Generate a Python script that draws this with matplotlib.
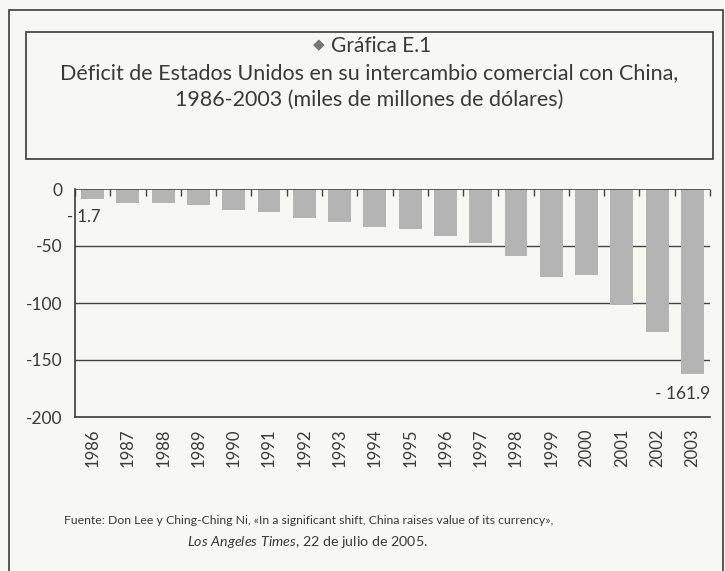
import matplotlib.pyplot as plt
import numpy as np
from matplotlib.patches import Rectangle

# data (miles de millones de dólares)
years = ['1986', '1987', '1988', '1989', '1990', '1991', '1992', '1993', '1994',
         '1995', '1996', '1997', '1998', '1999', '2000', '2001', '2002', '2003']
deficit = [-9.0, -12.0, -12.0, -14.3, -18.4, -20.5, -25.7, -28.7, -33.6,
           -35.4, -41.2, -47.1, -58.8, -76.9, -75.4, -101.8, -125.1, -161.9]
y_ticks = [0, -50, -100, -150, -200]
first_label = '- 1.7'
last_label = '- 161.9'

title_lines = ['Gráfica E.1',
               'Déficit de Estados Unidos en su intercambio comercial con China,',
               '1986-2003 (miles de millones de dólares)']
source_1 = 'Fuente: Don Lee y Ching-Ching Ni, «In a significant shift, China raises value of its currency»,'
source_2 = r'$\it{Los\ Angeles\ Times}$, 22 de julio de 2005.'

bg = '#f7f7f5'
ink = '#3a3a3a'
bar_col = '#b4b4b4'
fam = ['Lato', 'DejaVu Sans']
plt.rcParams['font.family'] = fam
plt.rcParams['mathtext.fontset'] = 'custom'
plt.rcParams['mathtext.it'] = 'Lato:italic'

W, H = 725, 571
fig = plt.figure(figsize=(W / 100, H / 100), dpi=100, facecolor=bg)

def fx(px):
    return px / W

def fy(py):
    return 1 - py / H

# outer frame and title box
fig.add_artist(Rectangle((fx(9), -0.02), fx(723) - fx(9), fy(10) + 0.02,
                         transform=fig.transFigure, fill=False, ec=ink, lw=1.2))
fig.add_artist(Rectangle((fx(26), fy(159)), fx(713) - fx(26), fy(32) - fy(159),
                         transform=fig.transFigure, fill=False, ec=ink, lw=1.2))

fig.text(fx(381), fy(46), title_lines[0], ha='center', va='center', fontsize=15, color=ink)
fig.text(fx(319), fy(45), '\u25c6', ha='center', va='center', fontsize=11, color='#777777')
for txt, py in zip(title_lines[1:], [73, 100]):
    fig.text(fx(369.5), fy(py), txt, ha='center', va='center', fontsize=15.5, color=ink)

ax = fig.add_axes([fx(75), fy(417), fx(710) - fx(75), fy(189) - fy(417)])
ax.set_facecolor(bg)
x = np.arange(len(years))
ax.bar(x, deficit, width=0.65, color=bar_col, zorder=3)
for g in [-50, -100, -150]:
    ax.axhline(g, color='#444444', lw=1.0, zorder=1)
ax.axhline(0, color='#444444', lw=1.2, zorder=4)

ax.set_xlim(-0.5, len(years) - 0.5)
ax.set_ylim(-200, 0)
ax.set_yticks(y_ticks)
ax.set_yticklabels([str(v) for v in y_ticks])
ax.tick_params(axis='y', length=0, pad=9, labelsize=12.5, colors=ink)
ax.set_xticks(x)
ax.set_xticklabels(years, rotation=90)
ax.tick_params(axis='x', length=0, pad=8, labelsize=12, colors=ink)

# small ticks on the zero line between categories
ax.set_xticks(np.arange(-0.5, len(years), 1), minor=True)
ax.tick_params(axis='x', which='minor', top=True, bottom=False, direction='in',
               length=5, width=1, color='#444444')

for side in ['top', 'right']:
    ax.spines[side].set_visible(False)
for side in ['left', 'bottom']:
    ax.spines[side].set_color(ink)
    ax.spines[side].set_linewidth(1.2)

ax.text(-0.74, -25, first_label, ha='left', va='center', fontsize=12, color=ink,
        zorder=5, clip_on=False)
ax.text(len(years) - 0.5, -180, last_label, ha='right', va='center', fontsize=12.5,
        color=ink, zorder=5)

fig.text(fx(309), fy(520), source_1, ha='center', va='center', fontsize=8.8, color=ink)
fig.text(fx(308), fy(542), source_2, ha='center', va='center', fontsize=10.3, color=ink)

fig.savefig('out.png', dpi=100, facecolor=bg)
